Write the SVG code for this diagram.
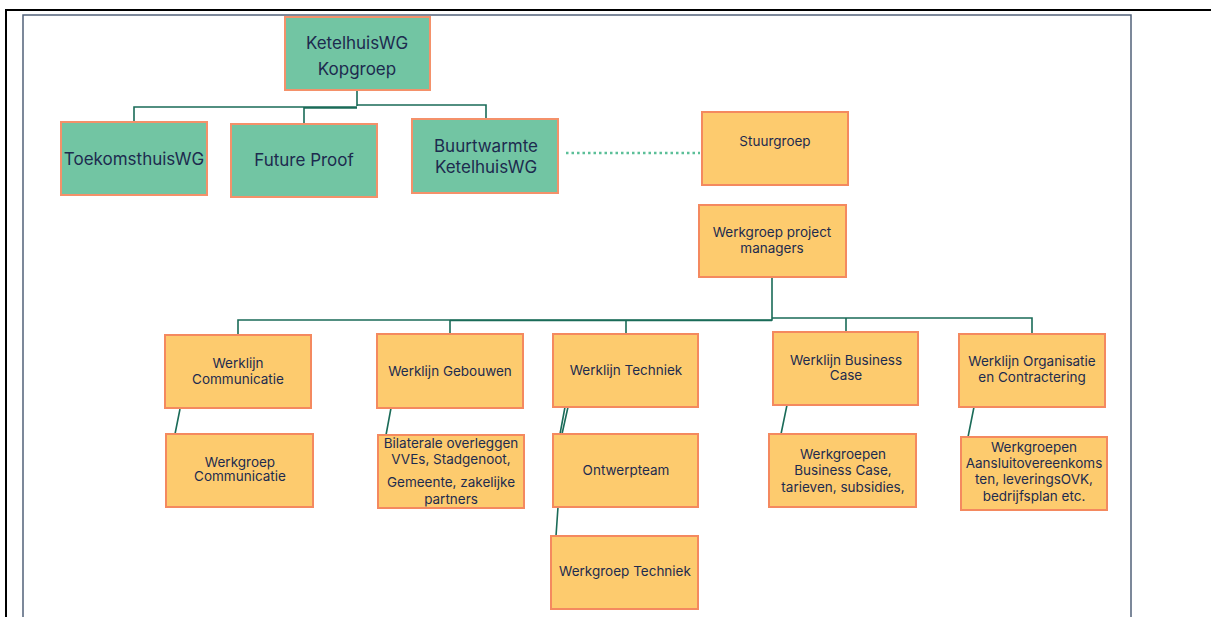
<svg xmlns="http://www.w3.org/2000/svg" width="1211" height="617" viewBox="0 0 1211 617">
<style>
.g{fill:#72c5a3;stroke:#f4916a;stroke-width:2}
.o{fill:#fdcb6e;stroke:#f4895f;stroke-width:2}
.tg{font-family:Inter,"Open Sans",sans-serif;font-size:17px;fill:#1d2b4f;text-anchor:middle}
.to{font-family:Inter,"Open Sans",sans-serif;font-size:13.5px;fill:#1d2b4f;text-anchor:middle}
.c{fill:none;stroke:#1a6b58;stroke-width:1.6}
</style>
<rect width="1211" height="617" fill="#fff"/>
<path d="M6,617 V10 H1211" fill="none" stroke="#000" stroke-width="2"/>
<path d="M23,617 V15 H1131 V617" fill="none" stroke="#52627a" stroke-width="1.5"/>
<g id="connectors">
<path class="c" d="M357,90 V106 M134,122 V107 H357 M304,124 V108 H357 M357,105 H486 V119"/>
<path d="M566,153 H700" fill="none" stroke="#5bbf98" stroke-width="2.5" stroke-dasharray="2.5 3"/>
<path class="c" d="M772,278 V320 H238 V335 M450,320 V335 M626,320 V334" />
<path class="c" d="M450,320.5 H772" stroke-width="2.5"/>
<path class="c" d="M772,318 H1032 V334 M846,318 V332"/>
<path class="c" d="M180,409 L175,434 M391,408 L386,435 M568,407 L562,434 M565,407 L560,434 M558,507 L556,536 M787,405 L781,434 M974,407 L968,437"/>
</g>
<g id="kopgroep"><rect class="g" x="285" y="17" width="145" height="73"/><text class="tg" x="357" y="49">KetelhuisWG</text><text class="tg" x="357" y="75">Kopgroep</text></g>
<g id="toekomsthuis"><rect class="g" x="61" y="122" width="146" height="73"/><text class="tg" x="134" y="165">ToekomsthuisWG</text></g>
<g id="futureproof"><rect class="g" x="231" y="124" width="146" height="73"/><text class="tg" x="304" y="166">Future Proof</text></g>
<g id="buurtwarmte"><rect class="g" x="412" y="119" width="146" height="74"/><text class="tg" x="486" y="152">Buurtwarmte</text><text class="tg" x="486" y="173">KetelhuisWG</text></g>
<g id="stuurgroep"><rect class="o" x="702" y="112" width="146" height="73"/><text class="to" x="775" y="146">Stuurgroep</text></g>
<g id="pm"><rect class="o" x="699" y="205" width="147" height="72"/><text class="to" x="772" y="237">Werkgroep project</text><text class="to" x="772" y="253">managers</text></g>
<g id="wl-communicatie"><rect class="o" x="165" y="335" width="146" height="73"/><text class="to" x="238" y="368">Werklijn</text><text class="to" x="238" y="384">Communicatie</text></g>
<g id="wl-gebouwen"><rect class="o" x="377" y="334" width="146" height="74"/><text class="to" x="450" y="376">Werklijn Gebouwen</text></g>
<g id="wl-techniek"><rect class="o" x="553" y="334" width="145" height="73"/><text class="to" x="626" y="375">Werklijn Techniek</text></g>
<g id="wl-business"><rect class="o" x="773" y="332" width="145" height="73"/><text class="to" x="846" y="365">Werklijn Business</text><text class="to" x="846" y="380">Case</text></g>
<g id="wl-organisatie"><rect class="o" x="959" y="334" width="146" height="73"/><text class="to" x="1032" y="366">Werklijn Organisatie</text><text class="to" x="1032" y="382">en Contractering</text></g>
<g id="wg-communicatie"><rect class="o" x="166" y="434" width="147" height="73"/><text class="to" x="240" y="467">Werkgroep</text><text class="to" x="240" y="481">Communicatie</text></g>
<g id="bilaterale"><rect class="o" x="378" y="435" width="146" height="73"/><text class="to" x="451" y="448">Bilaterale overleggen</text><text class="to" x="451" y="464">VVEs, Stadgenoot,</text><text class="to" x="451" y="487">Gemeente, zakelijke</text><text class="to" x="451" y="504">partners</text></g>
<g id="ontwerpteam"><rect class="o" x="553" y="434" width="145" height="73"/><text class="to" x="626" y="475">Ontwerpteam</text></g>
<g id="wg-techniek"><rect class="o" x="551" y="536" width="147" height="73"/><text class="to" x="625" y="576">Werkgroep Techniek</text></g>
<g id="wg-business"><rect class="o" x="769" y="434" width="147" height="73"/><text class="to" x="843" y="459">Werkgroepen</text><text class="to" x="843" y="475">Business Case,</text><text class="to" x="843" y="492">tarieven, subsidies,</text></g>
<g id="wg-aansluit"><rect class="o" x="961" y="437" width="146" height="73"/><text class="to" x="1034" y="452">Werkgroepen</text><text class="to" x="1034" y="468">Aansluitovereenkoms</text><text class="to" x="1034" y="484">ten, leveringsOVK,</text><text class="to" x="1034" y="501">bedrijfsplan etc.</text></g>
</svg>
